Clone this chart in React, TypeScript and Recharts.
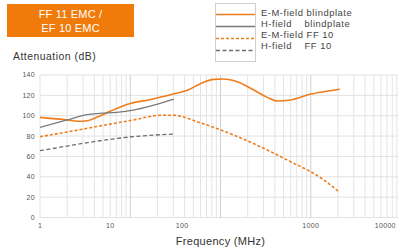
import React from 'react';
import { LineChart, Line, XAxis, YAxis, ReferenceLine } from 'recharts';

// E-M-field blindplate (solid orange)
const emBlindFreq = [1, 1.3, 2, 2.6, 3.3, 4.6, 6, 10, 17, 30, 43, 60, 84, 108, 153, 234, 330, 425, 600, 1000, 1500, 2100];
const emBlindVal = [98.4, 97.4, 95.8, 94.5, 95, 99.7, 104.3, 112, 116, 121.3, 125, 131.5, 135.7, 136, 133.4, 125.2, 118, 114.4, 115.4, 121.3, 124, 126];

// H-field blindplate (solid grey)
const hBlindFreq = [1, 2, 3.3, 4.6, 7.1, 10.8, 16.7, 30.4];
const hBlindVal = [88.6, 95.8, 101, 102.3, 103.3, 105.6, 109.5, 116.4];

// E-M-field FF 10 (dashed orange)
const emFFFreq = [1, 2, 4.6, 10.8, 21.5, 30.4, 60, 140, 330, 650, 1000, 1400, 2100];
const emFFVal = [79.4, 84, 89.9, 95.8, 100.4, 100.4, 93, 81, 66.3, 53.2, 45, 36.8, 24.4];

// H-field FF 10 (dashed grey)
const hFFFreq = [1, 2, 4.6, 10.8, 30.4];
const hFFVal = [65.6, 70.2, 75.4, 79.4, 82];

// tick labels sit where the original printed them (not on the decades)
const xTickPos = [1, 6, 37.5, 1000, 6700];
const xTickLabels = ['1', '10', '100', '1000', '10000'];
const yTicks = [0, 20, 40, 60, 80, 100, 120, 140];

const minorGrid = [2, 3, 4, 5, 6, 7, 8, 9, 20, 30, 40, 50, 60, 70, 80, 90, 200, 300, 400, 500, 600, 700, 800, 900, 2000, 3000, 4000, 5000, 6000, 7000, 8000, 9000];
const majorGrid = [10, 100, 1000];

const ORANGE = '#f07d1c';
const GREY = '#7a7a7a';
const FONT = '"Liberation Sans", Arial, sans-serif';

const toRows = (f: number[], v: number[]) => f.map((x, i) => ({ f: x, v: v[i] }));

const series = [
  { name: 'E-M-field blindplate', data: toRows(emBlindFreq, emBlindVal), color: ORANGE, dash: undefined, width: 1.6 },
  { name: 'H-field    blindplate', data: toRows(hBlindFreq, hBlindVal), color: GREY, dash: undefined, width: 1.3 },
  { name: 'E-M-field FF 10', data: toRows(emFFFreq, emFFVal), color: ORANGE, dash: '3 2', width: 1.6 },
  { name: 'H-field    FF 10', data: toRows(hFFFreq, hFFVal), color: '#6e6e6e', dash: '4 2.5', width: 1.3 },
];

const LegendBox = () => (
  <div style={{ position: 'absolute', left: 215, top: 3, display: 'flex' }}>
    <svg width={41} height={59} style={{ display: 'block' }}>
      <rect x={0.5} y={0.5} width={40} height={58} fill="#fff" stroke="#cfcfcf" />
      {series.map((s, i) => (
        <line key={s.name} x1={1} x2={40} y1={11.5 + i * 12} y2={11.5 + i * 12}
          stroke={s.color} strokeWidth={s.width} strokeDasharray={s.dash} />
      ))}
    </svg>
    <div style={{ marginLeft: 5, marginTop: 4, fontSize: 9.4, letterSpacing: 0.55, lineHeight: '11px', color: '#444', whiteSpace: 'pre' }}>
      {series.map((s) => <div key={s.name}>{s.name}</div>)}
    </div>
  </div>
);

export default function App() {
  return (
    <div style={{ position: 'absolute', left: 0, top: 0, width: 398, height: 251, overflow: 'hidden', background: '#fff', fontFamily: FONT }}>
      <div style={{ position: 'absolute', left: 7, top: 4, width: 127, height: 33, background: '#f07b0a', color: '#fff', fontSize: 11, letterSpacing: 0.2, lineHeight: '14px', textAlign: 'center', paddingTop: 3, boxSizing: 'border-box' }}>
        <div>FF 11 EMC /</div>
        <div>EF 10 EMC</div>
      </div>
      <div style={{ position: 'absolute', left: 13, top: 51, fontSize: 10.4, letterSpacing: 0.5, color: '#333' }}>Attenuation (dB)</div>
      <LegendBox />
      <div style={{ position: 'absolute', left: 0, top: 0 }}>
        <LineChart width={410} height={251} margin={{ top: 75, right: 9, bottom: 0, left: 0 }}>
          <XAxis
            dataKey="f"
            type="number"
            scale="log"
            domain={[1, 10000]}
            ticks={xTickPos}
            tickFormatter={(v: number) => xTickLabels[xTickPos.indexOf(v)] ?? ''}
            interval={0}
            allowDataOverflow
            axisLine={false}
            tickLine={false}
            tickSize={4}
            tick={{ fontSize: 7, fill: '#555', fontFamily: FONT, letterSpacing: 0.3 }}
            height={33.5}
            label={{ value: 'Frequency (MHz)', position: 'insideBottom', offset: 6, fontSize: 11, fill: '#333', fontFamily: FONT, letterSpacing: 0.3 }}
          />
          <YAxis
            type="number"
            domain={[0, 140]}
            ticks={yTicks}
            interval={0}
            axisLine={false}
            tickLine={false}
            tickSize={3}
            width={40}
            tick={{ fontSize: 7, fill: '#555', fontFamily: FONT, letterSpacing: 0.3 }}
          />
          {yTicks.map((y) => (
            <ReferenceLine key={`h${y}`} y={y} stroke="#e2e2e2" strokeWidth={1} />
          ))}
          <ReferenceLine x={1} stroke="#e2e2e2" strokeWidth={1} />
          {minorGrid.map((x) => (
            <ReferenceLine key={`m${x}`} x={x} stroke="#e4e4e4" strokeWidth={1} />
          ))}
          {majorGrid.map((x) => (
            <ReferenceLine key={`M${x}`} x={x} stroke="#d0d0d0" strokeWidth={1} />
          ))}
          {series.map((s) => (
            <Line
              key={s.name}
              data={s.data}
              dataKey="v"
              type="monotone"
              stroke={s.color}
              strokeWidth={s.width}
              strokeDasharray={s.dash}
              dot={false}
              isAnimationActive={false}
            />
          ))}
        </LineChart>
      </div>
    </div>
  );
}
